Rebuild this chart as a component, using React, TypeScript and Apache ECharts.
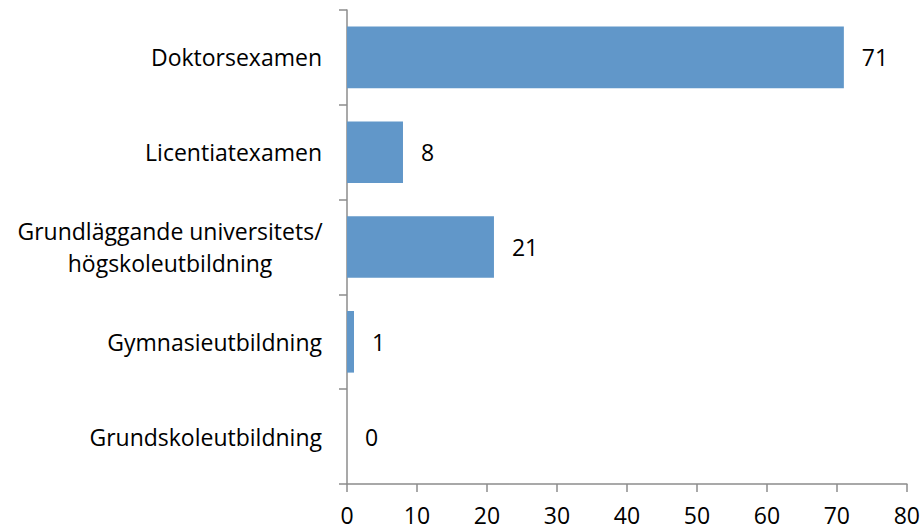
import React, { useEffect, useRef } from "react";
import * as echarts from "echarts";

const categories = [
  "Doktorsexamen",
  "Licentiatexamen",
  "Grundläggande universitets/\nhögskoleutbildning",
  "Gymnasieutbildning",
  "Grundskoleutbildning",
];
const values = [71, 8, 21, 1, 0];
const xTicks = { min: 0, max: 80, interval: 10 };

const FONT = "Open Sans";

export default function App() {
  const ref = useRef<HTMLDivElement>(null);
  useEffect(() => {
    if (!ref.current) return;
    const chart = echarts.init(ref.current, null, { renderer: "svg" });
    const yData = categories.map((c) =>
      c.includes("\n")
        ? { value: c, textStyle: { align: "center", padding: [0, 304, 0, 0] } }
        : c
    );
    chart.setOption({
      animation: false,
      grid: { left: 347, right: 16, top: 10, bottom: 48, containLabel: false },
      xAxis: {
        type: "value",
        min: xTicks.min,
        max: xTicks.max,
        interval: xTicks.interval,
        splitLine: { show: false },
        axisLine: { show: true, lineStyle: { color: "#8c8c8c", width: 1.5 } },
        axisTick: { show: true, length: 8, lineStyle: { color: "#8c8c8c", width: 1.5 } },
        axisLabel: { color: "#000", fontFamily: FONT, fontSize: 23, margin: 19 },
      },
      yAxis: {
        type: "category",
        inverse: true,
        data: yData,
        axisLine: { show: true, lineStyle: { color: "#8c8c8c", width: 1.5 } },
        axisTick: { show: true, length: 8, lineStyle: { color: "#8c8c8c", width: 1.5 } },
        axisLabel: {
          color: "#000",
          fontFamily: FONT,
          fontSize: 23,
          margin: 25,
          lineHeight: 32,
          align: "right",
        },
      },
      series: [
        {
          type: "bar",
          data: values,
          barWidth: "65%",
          itemStyle: { color: "#6197c9" },
          label: {
            show: true,
            position: "right",
            distance: 18,
            color: "#000",
            fontFamily: FONT,
            fontSize: 23,
          },
        },
      ],
    });
    return () => chart.dispose();
  }, []);
  return <div ref={ref} style={{ width: 923, height: 532, position: "absolute", left: 0, top: 0 }} />;
}
